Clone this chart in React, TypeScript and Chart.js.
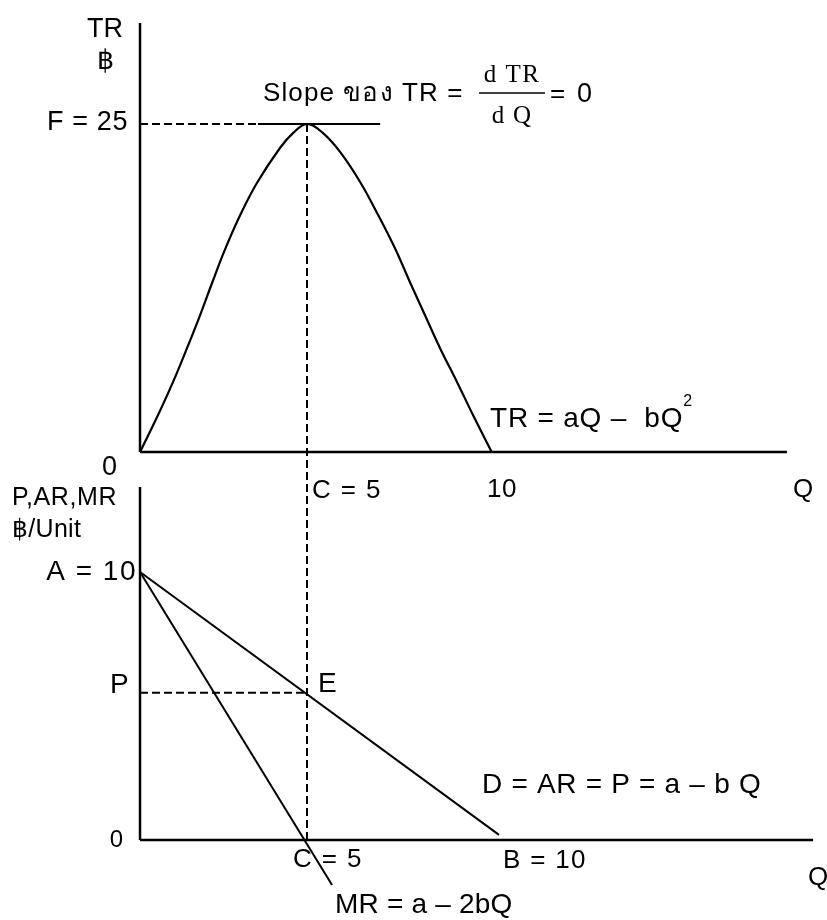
import React, { useEffect, useRef } from "react";
import { Chart, registerables } from "chart.js";

Chart.register(...registerables);

// ---- Data (Q = quantity, TR = total revenue, P = price) ----
// Total revenue curve
const trQ = [0, 0.54, 0.99, 1.41, 1.8, 2.16, 2.54, 2.99, 3.5, 4.19, 4.58, 5, 5.48, 5.99, 6.59, 7.13, 7.63, 8.08, 8.53, 8.98, 9.49, 9.97, 10.53];
const trValues = [0, 2.82, 5.34, 7.93, 10.44, 12.9, 15.4, 18.0, 20.5, 23.17, 24.3, 25, 24.3, 22.87, 20.58, 18.06, 15.55, 12.96, 10.44, 7.93, 5.34, 2.82, 0];
// Tangent at the peak (slope of TR = 0)
const tangentQ = [3.53, 7.19];
const peakTR = 25;
const peakQ = 5;
// Demand (AR) and marginal revenue lines
const demandQ = [0, 10.75];
const demandP = [10, 0.19];
const mrQ = [0, 5.75];
const mrP = [10, -1.68];
const eqQ = 5;
const eqP = 5.49;
// Axis extents
const topAxisQMax = 19.37;
const topAxisTRMax = 32.7;
const botAxisQMax = 20.15;
const botAxisPMax = 13.17;
const guideTopP = 26.72; // vertical guide reaches the TR peak

const SANS = '"Liberation Sans", Arial, sans-serif';
const SERIF = '"Liberation Serif", "Times New Roman", serif';

type Lbl = { t: string; x: number; y: number; s: number; a?: CanvasTextAlign; f?: string; ls?: number };
const labels: Lbl[] = [
  { t: "TR", x: 105, y: 37, s: 27, a: "center" },
  { t: "฿", x: 105, y: 69, s: 27, a: "center" },
  { t: "F = 25", x: 128, y: 130, s: 27, a: "right", ls: 0.6 },
  { t: "Slope ของ TR =", x: 263, y: 101, s: 26, ls: 1.1 },
  { t: "d TR", x: 512, y: 82, s: 25, a: "center", f: SERIF, ls: 1.5 },
  { t: "d Q", x: 512, y: 123, s: 25, a: "center", f: SERIF, ls: 1.2 },
  { t: "=", x: 550, y: 102, s: 26 },
  { t: "0", x: 577, y: 102, s: 27 },
  { t: "TR = aQ \u2013  bQ", x: 490, y: 427, s: 28, ls: 0.8 },
  { t: "0", x: 117, y: 475, s: 27, a: "right" },
  { t: "C = 5", x: 312, y: 498, s: 26, ls: 1.4 },
  { t: "10", x: 487, y: 497, s: 26, ls: 0.5 },
  { t: "Q", x: 793, y: 497, s: 26 },
  { t: "P,AR,MR", x: 12, y: 505, s: 25, ls: 0.6 },
  { t: "฿/Unit", x: 12, y: 537, s: 25, ls: 0.3 },
  { t: "A = 10", x: 137, y: 580, s: 28, a: "right", ls: 1.5 },
  { t: "P", x: 110, y: 693, s: 28 },
  { t: "E", x: 318, y: 692, s: 28 },
  { t: "0", x: 123, y: 847, s: 24, a: "right" },
  { t: "C = 5", x: 293, y: 867, s: 26, ls: 1.4 },
  { t: "MR = a \u2013 2bQ", x: 335, y: 913, s: 28, ls: 0.2 },
  { t: "D = AR = P = a \u2013 b Q", x: 482, y: 793, s: 28, ls: 0.7 },
  { t: "B = 10", x: 503, y: 868, s: 26, ls: 1.3 },
  { t: "Q", x: 808, y: 885, s: 26 },
];

const textPlugin = {
  id: "texts",
  afterDraw(chart: any) {
    const ctx = chart.ctx as any;
    ctx.save();
    ctx.fillStyle = "#000";
    ctx.textBaseline = "alphabetic";
    for (const l of labels) {
      ctx.font = `${l.s}px ${l.f || SANS}`;
      ctx.letterSpacing = `${l.ls || 0}px`;
      ctx.textAlign = l.a || "left";
      ctx.fillText(l.t, l.x, l.y);
    }
    // superscript 2 after "bQ"
    ctx.font = `28px ${SANS}`;
    ctx.letterSpacing = "0.8px";
    ctx.textAlign = "left";
    const w = ctx.measureText("TR = aQ \u2013  bQ").width;
    ctx.letterSpacing = "0px";
    ctx.font = `16px ${SANS}`;
    ctx.fillText("2", 490 + w, 406);
    // fraction bar
    ctx.strokeStyle = "#000";
    ctx.lineWidth = 1.5;
    ctx.beginPath();
    ctx.moveTo(479, 93);
    ctx.lineTo(545, 93);
    ctx.stroke();
    ctx.restore();
  },
};

function pts(xs: number[], ys: number[]) {
  return xs.map((x, i) => ({ x, y: ys[i] }));
}

export default function App() {
  const ref = useRef<HTMLCanvasElement>(null);
  useEffect(() => {
    if (!ref.current) return;
    const base = { showLine: true, pointRadius: 0, borderColor: "#000", borderWidth: 2, fill: false };
    const chart = new Chart(ref.current, {
      type: "scatter",
      data: {
        datasets: [
          { ...base, yAxisID: "yTR", borderWidth: 2.5, data: pts([0, 0], [0, topAxisTRMax]) },
          { ...base, yAxisID: "yTR", borderWidth: 2.5, data: pts([0, topAxisQMax], [0, 0]) },
          { ...base, yAxisID: "yTR", borderWidth: 2.2, tension: 0.4, data: pts(trQ, trValues) },
          { ...base, yAxisID: "yTR", data: pts(tangentQ, [peakTR, peakTR]) },
          { ...base, yAxisID: "yTR", borderDash: [8, 4], data: pts([0, peakQ], [peakTR, peakTR]) },
          { ...base, yAxisID: "yP", borderWidth: 2.5, data: pts([0, 0], [0, botAxisPMax]) },
          { ...base, yAxisID: "yP", borderWidth: 2.5, data: pts([0, botAxisQMax], [0, 0]) },
          { ...base, yAxisID: "yP", data: pts(demandQ, demandP) },
          { ...base, yAxisID: "yP", data: pts(mrQ, mrP) },
          { ...base, yAxisID: "yP", borderDash: [8, 4], data: pts([0, eqQ], [eqP, eqP]) },
          { ...base, yAxisID: "yP", borderDash: [8, 4], data: pts([peakQ, peakQ], [0, guideTopP]) },
        ] as any,
      },
      options: {
        animation: false,
        responsive: false,
        devicePixelRatio: 1,
        layout: { padding: 0 },
        plugins: { legend: { display: false }, tooltip: { enabled: false } },
        events: [],
        scales: {
          x: { type: "linear", min: -4.192, max: 20.569, display: false },
          yTR: { type: "linear", position: "left", min: -35.67, max: 34.45, display: false },
          yP: { type: "linear", position: "left", min: -2.985, max: 31.34, display: false },
        },
      },
      plugins: [textPlugin],
    });
    return () => chart.destroy();
  }, []);
  return (
    <div style={{ position: "absolute", left: 0, top: 0, width: 827, height: 920, background: "#fff" }}>
      <canvas ref={ref} width={827} height={920} style={{ width: 827, height: 920, display: "block" }} />
    </div>
  );
}
